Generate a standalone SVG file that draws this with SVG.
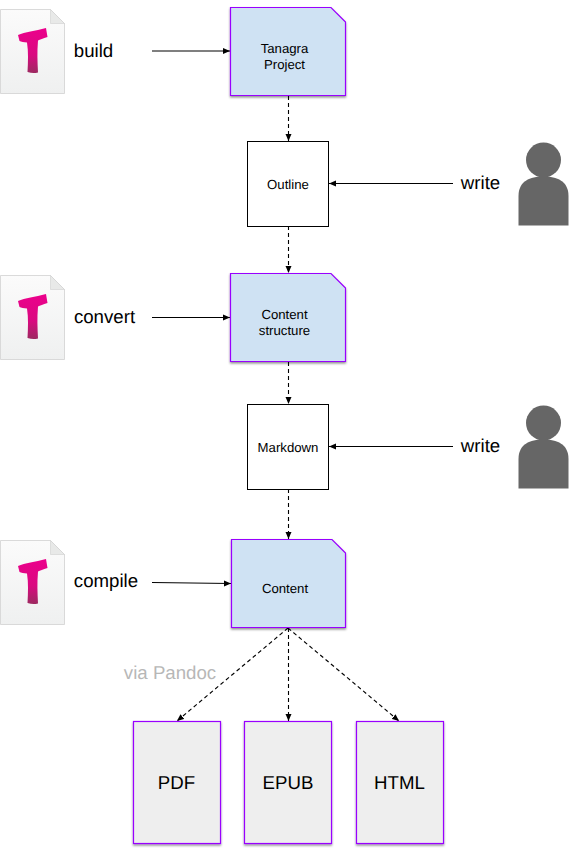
<svg xmlns="http://www.w3.org/2000/svg" width="570" height="852" viewBox="0 0 570 852">
<style>
text{font-family:"Liberation Sans",Arial,sans-serif;fill:#000;text-anchor:middle;text-rendering:geometricPrecision}
.s{font-size:13.2px}.m{font-size:18.67px}.l{font-size:18.67px}
.blue{fill:#cfe2f3;stroke:#9900ff;stroke-width:1.2;filter:url(#sh)}
.gray{fill:#eeeeee;stroke:#9900ff;stroke-width:1.2;filter:url(#sh)}
.box{fill:#fff;stroke:#000;stroke-width:1}
.c{fill:none;stroke:#000;stroke-width:1.1}
.d{stroke-dasharray:4 3}
.pg{fill:url(#pg);stroke:#d0d0d0;stroke-width:.8}
.fold{fill:#e8e9e8;stroke:#d0d0d0;stroke-width:.6}
.t{fill:url(#tg)}
.p{fill:#666}
</style>
<defs>
<marker id="a" markerWidth="8" markerHeight="7" refX="7" refY="3.5" orient="auto" markerUnits="userSpaceOnUse"><path d="M0 .5L7 3.5L0 6.5z" fill="#000"/></marker>
<filter id="sh" x="-10%" y="-10%" width="120%" height="120%"><feDropShadow dx="0" dy="1.5" stdDeviation="1.2" flood-color="#000" flood-opacity=".45"/></filter>
<linearGradient id="pg" x1="0" y1="0" x2="0" y2="1"><stop offset="0" stop-color="#fbfbfb"/><stop offset="1" stop-color="#eff0f0"/></linearGradient>
<linearGradient id="tg" x1="0" y1="0" x2="0" y2="1"><stop offset="0" stop-color="#ec008c"/><stop offset=".6" stop-color="#d90a80"/><stop offset="1" stop-color="#9c2a60"/></linearGradient>
<g id="doc">
<path class="pg" d="M.5 9.500H50.500L64.500 23.500V93.500H.5z"/>
<path class="fold" d="M50.500 9.500V23.500H64.500z"/>
<path class="t" d="M18 35C25 32 35 31 46 28L47.500 37C43 38.500 40 39.500 38 40.500C37 52 37.500 62 38 72.500C34 73.500 31 73 27.500 72C28 62 28.500 52 27 42.500C24 42 21 42 19.500 41z"/>
</g>
<g id="person">
<circle cx="543.500" cy="160" r="17.500" class="p"/>
<path class="p" d="M518.500 225.500V196C518.500 181 530 176.500 543.500 176.500C557 176.500 568.500 181 568.500 196V225.500z"/>
</g>
</defs>
<g id="connectors">
<path class="c" d="M152 51H230" marker-end="url(#a)"/>
<path class="c d" d="M288.500 96V141" marker-end="url(#a)"/>
<path class="c" d="M453 183.500H329" marker-end="url(#a)"/>
<path class="c d" d="M288.500 226V273" marker-end="url(#a)"/>
<path class="c" d="M152 317.500H230" marker-end="url(#a)"/>
<path class="c d" d="M288.500 362V404" marker-end="url(#a)"/>
<path class="c" d="M453 446.500H329" marker-end="url(#a)"/>
<path class="c d" d="M288.500 489V539" marker-end="url(#a)"/>
<path class="c" d="M152 582.500L231 583.500" marker-end="url(#a)"/>
<path class="c d" d="M288 628L177 721" marker-end="url(#a)"/>
<path class="c d" d="M288.500 628V721" marker-end="url(#a)"/>
<path class="c d" d="M288 628L399 721" marker-end="url(#a)"/>
</g>
<g id="doc-build"><use href="#doc"/><text class="m" x="93.500" y="57">build</text></g>
<g id="doc-convert"><use href="#doc" y="266"/><text class="m" x="104.500" y="323">convert</text></g>
<g id="doc-compile"><use href="#doc" y="531"/><text class="m" x="106" y="587">compile</text></g>
<g id="tanagra-project"><path class="blue" d="M230.500 7.500H331L345.500 22V95.500H230.500z"/><text class="s" x="284.500" y="52.500">Tanagra</text><text class="s" x="284.500" y="68.500">Project</text></g>
<g id="outline"><rect class="box" x="247.500" y="141.500" width="81" height="85"/><text class="s" x="288" y="188.500">Outline</text></g>
<g id="content-structure"><path class="blue" d="M230.500 273.500H331L345.500 288V361.500H230.500z"/><text class="s" x="284.500" y="318.500">Content</text><text class="s" x="284.500" y="334.500">structure</text></g>
<g id="markdown"><rect class="box" x="247.500" y="404.500" width="81" height="85"/><text class="s" x="288" y="451.500">Markdown</text></g>
<g id="content"><path class="blue" d="M231.500 539.500H332L345.500 553V627.500H231.500z"/><text class="s" x="285" y="592.500">Content</text></g>
<g id="write-1"><use href="#person"/><text class="m" x="480.500" y="189">write</text></g>
<g id="write-2"><use href="#person" y="263"/><text class="m" x="480.500" y="451.500">write</text></g>
<text x="170" y="679" font-size="18.670" style="fill:#b7b7b7">via Pandoc</text>
<g id="pdf"><rect class="gray" x="133.500" y="721.500" width="87" height="122"/><text class="l" x="176.500" y="789">PDF</text></g>
<g id="epub"><rect class="gray" x="244.500" y="721.500" width="87" height="122"/><text class="l" x="288" y="789">EPUB</text></g>
<g id="html"><rect class="gray" x="356.500" y="721.500" width="87" height="122"/><text class="l" x="399.500" y="789">HTML</text></g>
</svg>
